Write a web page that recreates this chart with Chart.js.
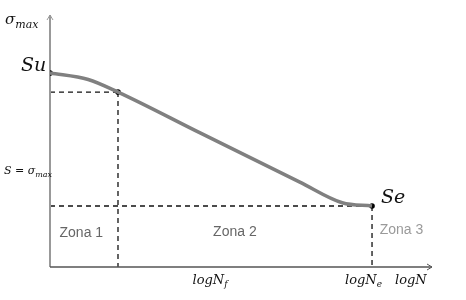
<!DOCTYPE html>
<html>
<head>
<meta charset="utf-8">
<script src="https://cdn.jsdelivr.net/npm/chart.js@4"></script>
<style>
  html, body { margin: 0; padding: 0; background: #fff; }
  #wrap { width: 466px; height: 300px; }
</style>
</head>
<body>
<div id="wrap"><canvas id="wohler"></canvas></div>
<script>
// S-N curve, arbitrary units (logN 0..10, sigma 0..10)
const curveX = [0, 1.0, 1.78, 3.93, 6.54, 7.65, 8.43];
const curveY = [7.70, 7.44, 6.94, 5.32, 3.37, 2.55, 2.42];
const keyX = [0, 1.78, 8.43];
const keyY = [7.70, 6.94, 2.42];
const zoneLabels = ['Zona 1', 'Zona 2', 'Zona 3'];
const zoneX = [0.82, 4.84, 9.2];
const zoneY = [1.35, 1.4, 1.45];

const serif = '"DejaVu Serif", "Liberation Serif", serif';

const overlay = {
  id: 'overlay',
  beforeDatasetsDraw(chart) {
    const { ctx, chartArea: a, scales: { x, y } } = chart;
    ctx.save();
    // dashed guides
    ctx.strokeStyle = '#111';
    ctx.lineWidth = 1.3;
    ctx.setLineDash([5, 4]);
    const kx = x.getPixelForValue(keyX[1]), ky = y.getPixelForValue(keyY[1]);
    const ex = x.getPixelForValue(keyX[2]), ey = y.getPixelForValue(keyY[2]);
    ctx.beginPath();
    ctx.moveTo(a.left, ky); ctx.lineTo(kx, ky);
    ctx.moveTo(kx, ky); ctx.lineTo(kx, a.bottom);
    ctx.moveTo(a.left, ey); ctx.lineTo(ex, ey);
    ctx.moveTo(ex, ey); ctx.lineTo(ex, a.bottom);
    ctx.stroke();
    ctx.setLineDash([]);

    // y axis
    ctx.strokeStyle = '#999';
    ctx.lineWidth = 2;
    ctx.beginPath();
    ctx.moveTo(a.left, a.bottom); ctx.lineTo(a.left, a.top);
    ctx.stroke();
    ctx.lineWidth = 1;
    ctx.beginPath();
    ctx.moveTo(a.left - 3, a.top + 5); ctx.lineTo(a.left, a.top); ctx.lineTo(a.left + 3, a.top + 5);
    ctx.stroke();

    // x axis
    ctx.strokeStyle = '#555';
    ctx.lineWidth = 1.5;
    ctx.beginPath();
    ctx.moveTo(a.left, a.bottom); ctx.lineTo(a.right, a.bottom);
    ctx.stroke();
    ctx.lineWidth = 1;
    ctx.beginPath();
    ctx.moveTo(a.right - 5, a.bottom - 3); ctx.lineTo(a.right, a.bottom); ctx.lineTo(a.right - 5, a.bottom + 3);
    ctx.stroke();

    // zone labels
    ctx.font = '14px "Liberation Sans", Arial, sans-serif';
    ctx.textAlign = 'center';
    ctx.textBaseline = 'middle';
    zoneLabels.forEach((t, i) => {
      ctx.fillStyle = i === 2 ? '#9a9a9a' : '#666';
      ctx.fillText(t, x.getPixelForValue(zoneX[i]), y.getPixelForValue(zoneY[i]));
    });

    // math labels
    ctx.fillStyle = '#111';
    const sub = (base, s, px, py, size) => {
      ctx.font = `italic ${size}px ${serif}`;
      const w = ctx.measureText(base).width;
      ctx.fillText(base, px, py);
      ctx.font = `italic ${Math.round(size * 0.72)}px ${serif}`;
      ctx.fillText(s, px + w, py + size * 0.25);
      return w + ctx.measureText(s).width;
    };
    ctx.textAlign = 'left';
    ctx.textBaseline = 'alphabetic';
    sub('\u03C3', 'max', a.left - 45, a.top + 9, 15);
    ctx.font = `italic 19px ${serif}`;
    ctx.fillText('Su', a.left - 29, y.getPixelForValue(keyY[0]) - 2);
    ctx.fillText('Se', ex + 9, ey - 3);
    ctx.font = `italic 11px ${serif}`;
    ctx.fillText('S = ', a.left - 46, 174);
    const eqW = ctx.measureText('S = ').width;
    sub('\u03C3', 'max', a.left - 46 + eqW, 174, 11);
    sub('logN', 'f', x.getPixelForValue(3.73), a.bottom + 17, 13);
    sub('logN', 'e', ex - 27, a.bottom + 17, 13);
    ctx.font = `italic 13px ${serif}`;
    ctx.fillText('logN', a.right - 37, a.bottom + 17);
    ctx.restore();
  }
};

new Chart(document.getElementById('wohler'), {
  type: 'scatter',
  data: {
    datasets: [
      {
        data: curveX.map((v, i) => ({ x: v, y: curveY[i] })),
        showLine: true,
        borderColor: '#808080',
        borderWidth: 3.5,
        pointRadius: 0,
        cubicInterpolationMode: 'monotone'
      },
      {
        data: keyX.map((v, i) => ({ x: v, y: keyY[i] })),
        pointRadius: 2.8,
        pointBackgroundColor: '#000',
        pointBorderWidth: 0
      }
    ]
  },
  options: {
    responsive: true,
    maintainAspectRatio: false,
    animation: false,
    layout: { padding: { left: 50, right: 34, top: 15, bottom: 33 } },
    scales: {
      x: { display: false, min: 0, max: 10 },
      y: { display: false, min: 0, max: 10 }
    },
    plugins: { legend: { display: false }, tooltip: { enabled: false } }
  },
  plugins: [overlay]
});
</script>
</body>
</html>
